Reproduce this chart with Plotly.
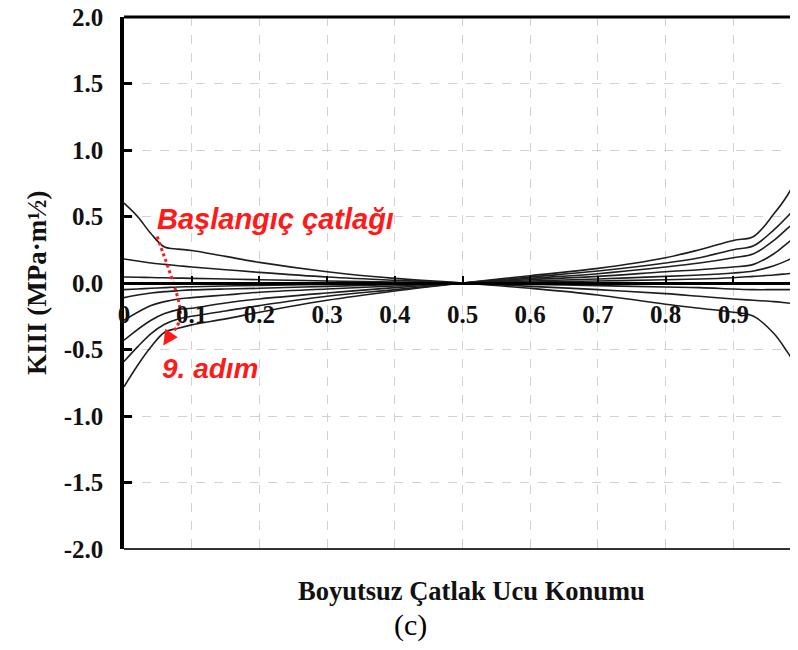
import plotly.graph_objects as go

# dimensionless crack-front position
x_pos = [0, 0.02, 0.04, 0.06, 0.08, 0.1, 0.15, 0.2, 0.3, 0.4, 0.5,
         0.6, 0.7, 0.8, 0.85, 0.9, 0.93, 0.96, 0.98, 1.0]

# KIII values for each crack growth step (initial crack -> 9th step)
k_step1 = [0.60, 0.50, 0.37, 0.27, 0.255, 0.245, 0.20, 0.155, 0.085, 0.035, 0.0,
           -0.04, -0.09, -0.16, -0.19, -0.22, -0.25, -0.38, -0.52, -0.68]
k_step2 = [0.18, 0.165, 0.15, 0.14, 0.13, 0.12, 0.10, 0.08, 0.045, 0.02, 0.0,
           -0.025, -0.05, -0.08, -0.10, -0.12, -0.13, -0.14, -0.15, -0.16]
k_step3 = [0.045, 0.043, 0.041, 0.039, 0.037, 0.035, 0.03, 0.025, 0.015, 0.007, 0.0,
           -0.01, -0.02, -0.03, -0.035, -0.045, -0.05, -0.05, -0.05, -0.05]
k_step4 = [-0.05, -0.045, -0.04, -0.035, -0.03, -0.028, -0.022, -0.018, -0.01, -0.005, 0.0,
           0.008, 0.015, 0.025, 0.03, 0.04, 0.05, 0.06, 0.07, 0.08]
k_step5 = [-0.11, -0.09, -0.075, -0.065, -0.058, -0.052, -0.045, -0.04, -0.025, -0.012, 0.0,
           0.015, 0.03, 0.05, 0.06, 0.075, 0.09, 0.13, 0.17, 0.22]
k_step6 = [-0.28, -0.22, -0.17, -0.14, -0.12, -0.11, -0.09, -0.07, -0.045, -0.022, 0.0,
           0.025, 0.05, 0.085, 0.10, 0.12, 0.14, 0.22, 0.30, 0.38]
k_step7 = [-0.43, -0.35, -0.28, -0.23, -0.20, -0.19, -0.15, -0.12, -0.075, -0.035, 0.0,
           0.035, 0.07, 0.12, 0.15, 0.19, 0.22, 0.32, 0.41, 0.50]
k_step8 = [-0.59, -0.48, -0.38, -0.31, -0.27, -0.25, -0.21, -0.17, -0.10, -0.05, 0.0,
           0.045, 0.09, 0.15, 0.19, 0.25, 0.28, 0.40, 0.50, 0.62]
k_step9 = [-0.78, -0.62, -0.48, -0.37, -0.34, -0.315, -0.27, -0.22, -0.13, -0.06, 0.0,
           0.055, 0.11, 0.19, 0.25, 0.32, 0.35, 0.52, 0.66, 0.85]

all_steps = [k_step1, k_step2, k_step3, k_step4, k_step5,
             k_step6, k_step7, k_step8, k_step9]

x_ticks = [0, 0.1, 0.2, 0.3, 0.4, 0.5, 0.6, 0.7, 0.8, 0.9, 1.0]
x_ticktext = ["0", "0.1", "0.2", "0.3", "0.4", "0.5", "0.6", "0.7", "0.8", "0.9", "1"]
y_ticks = [-2.0, -1.5, -1.0, -0.5, 0.0, 0.5, 1.0, 1.5, 2.0]
y_ticktext = ["-2.0", "-1.5", "-1.0", "-0.5", "0.0", "0.5", "1.0", "1.5", "2.0"]

# red dotted bracket from the first to the last step
arc_x = [0.049, 0.058, 0.067, 0.076, 0.082, 0.083, 0.078, 0.071]
arc_y = [0.35, 0.22, 0.09, -0.05, -0.17, -0.26, -0.33, -0.37]
arrow_tip = (0.058, -0.47)

serif = "Liberation Serif"
fig = go.Figure()

for ks in all_steps:
    fig.add_trace(go.Scatter(x=x_pos, y=ks, mode="lines",
                             line=dict(color="#1e1e1e", width=1.6),
                             line_shape="spline", showlegend=False))

fig.add_trace(go.Scatter(x=arc_x, y=arc_y, mode="lines", line_shape="spline",
                         line=dict(color="#ff1a1a", width=3, dash="dot"),
                         showlegend=False))

fig.add_annotation(x=arrow_tip[0], y=arrow_tip[1], ax=arc_x[-1], ay=arc_y[-1],
                   xref="x", yref="y", axref="x", ayref="y", text="",
                   showarrow=True, arrowhead=2, arrowsize=1.2, arrowwidth=2.5,
                   arrowcolor="#ff1a1a")

fig.add_annotation(x=0.046, y=0.48, xref="x", yref="y", text="Başlangıç çatlağı",
                   showarrow=False, xanchor="left", yanchor="middle",
                   font=dict(family="Liberation Sans", size=29, color="#ff1a1a",
                             weight="bold", style="italic"))
fig.add_annotation(x=0.053, y=-0.64, xref="x", yref="y", text="9. adım",
                   showarrow=False, xanchor="left", yanchor="middle",
                   font=dict(family="Liberation Sans", size=28, color="#ff1a1a",
                             weight="bold", style="italic"))

# axis titles / caption
fig.add_annotation(x=0.5126, y=-0.079, xref="paper", yref="paper",
                   text="Boyutsuz Çatlak Ucu Konumu", showarrow=False,
                   xanchor="center", yanchor="middle",
                   font=dict(family=serif, size=26.5, color="#111", weight="bold"))
fig.add_annotation(x=0.4225, y=-0.143, xref="paper", yref="paper", text="(c)",
                   showarrow=False, xanchor="center", yanchor="middle",
                   font=dict(family=serif, size=30, color="#000"))
fig.add_annotation(x=-0.1285, y=0.5, xref="paper", yref="paper",
                   text="KIII (MPa·m½)", textangle=-90, showarrow=False,
                   xanchor="center", yanchor="middle",
                   font=dict(family=serif, size=27, color="#111", weight="bold"))

# frame lines
fig.add_shape(type="line", xref="paper", yref="paper", x0=0, x1=1, y0=1, y1=1,
              line=dict(color="black", width=3))
fig.add_shape(type="line", xref="paper", yref="paper", x0=0, x1=1, y0=0, y1=0,
              line=dict(color="#333", width=2))

fig.update_xaxes(range=[0, 1], anchor="free", position=0.5, automargin=False,
                 showline=True, linecolor="black", linewidth=2.5,
                 tickvals=x_ticks, ticktext=x_ticktext, ticklabeloverflow="allow",
                 ticks="inside", ticklen=6, tickwidth=1.5, tickcolor="black",
                 ticklabelstandoff=8,
                 tickfont=dict(family=serif, size=25, color="#111", weight="bold"),
                 showgrid=True, gridcolor="#d2d2d2", gridwidth=1, griddash="dash",
                 zeroline=False)
fig.update_yaxes(range=[-2, 2], automargin=False,
                 showline=True, linecolor="black", linewidth=3.5,
                 tickvals=y_ticks, ticktext=y_ticktext, ticklabeloverflow="allow",
                 ticks="inside", ticklen=8, tickwidth=3, tickcolor="black",
                 ticklabelstandoff=12,
                 tickfont=dict(family=serif, size=25, color="#111", weight="bold"),
                 showgrid=True, gridcolor="#d2d2d2", gridwidth=1, griddash="dash",
                 zeroline=False)

# the page body adds an 8px offset, so the margins are shifted to compensate
fig.update_layout(width=798, height=650, plot_bgcolor="white", paper_bgcolor="white",
                  margin=dict(l=116, r=5, t=9, b=109), showlegend=False)

fig.write_html("out.html")
